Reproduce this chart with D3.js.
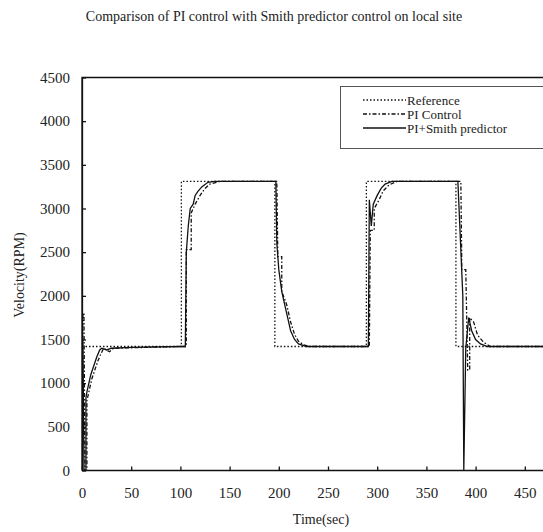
<!DOCTYPE html>
<html lang="en">
<head>
    <meta charset="UTF-8">
    <title>PI vs Smith predictor</title>
    <script src="https://d3js.org/d3.v7.min.js"></script>
    <style>
        body { margin: 0; padding: 0; background: #fff; }
        svg { display: block; font-family: "Liberation Serif", "DejaVu Serif", serif; }
        .axis path, .axis line { stroke: #111; stroke-width: 1.3px; }
        .axis text { font-size: 15px; fill: #222; }
        .series { fill: none; stroke: #111; stroke-width: 1.3px; }
        .legend text { font-size: 13px; fill: #222; }
    </style>
</head>
<body>
<div id="chart"></div>
<script>
    // series: [time (sec), velocity (RPM)]
    const reference = [[0,1420],[101,1420],[101,3310],[196,3310],[196,1420],[289,1420],[289,3310],
        [380,3310],[380,1420],[500,1420]];

    const piControl = [[0,1420],[1,1800],[2,1800],[3,0],[5,0],[5,800],[8,950],[10,1050],[13,1150],
        [16,1250],[19,1330],[22,1400],[28,1360],[32,1400],[101,1420],[106,1420],[106,2530],[111,2530],
        [111,2950],[115,3050],[120,3150],[125,3230],[130,3280],[140,3310],[198,3310],[199,2450],
        [203,2450],[203,2050],[208,1900],[212,1700],[216,1560],[220,1480],[225,1440],[232,1420],
        [292,1420],[293,2750],[297,2750],[297,3000],[302,3100],[306,3200],[312,3270],[320,3310],
        [385,3310],[386,2300],[390,2300],[392,1150],[394,1150],[394,1750],[398,1700],[402,1550],
        [408,1470],[415,1420],[500,1420]];

    const smith = [[0,1800],[1,1420],[2,0],[4,0],[4,830],[5,900],[7,1000],[9,1100],[12,1200],
        [15,1300],[18,1380],[20,1400],[25,1380],[30,1400],[50,1410],[101,1420],[105,1420],[106,2500],
        [108,2800],[110,3000],[113,3050],[115,3150],[118,3200],[122,3250],[128,3300],[135,3310],
        [197,3310],[198,2600],[200,2300],[203,2050],[206,1900],[209,1750],[212,1600],[216,1500],
        [220,1450],[228,1420],[291,1420],[292,3100],[294,2800],[296,3050],[300,3150],[304,3230],
        [308,3280],[315,3310],[382,3310],[387,2000],[388,0],[390,1400],[393,1750],[396,1600],
        [400,1500],[405,1450],[412,1420],[500,1420]];

    const xTicks = [0, 50, 100, 150, 200, 250, 300, 350, 400, 450];
    const yTicks = [0, 500, 1000, 1500, 2000, 2500, 3000, 3500, 4000, 4500];

    const legendItems = [
        { label: "Reference", data: reference, dash: "1.5,2" },
        { label: "PI Control", data: piControl, dash: "4,2,1.5,2" },
        { label: "PI+Smith predictor", data: smith, dash: null }
    ];

    const serif = "'Liberation Serif', 'DejaVu Serif', serif";
    const width = 543, height = 532;
    const margin = { left: 82, top: 77.5, bottom: 470.5 };

    const svg = d3.select("#chart").append("svg")
        .attr("width", width)
        .attr("height", height);

    svg.append("rect").attr("width", width).attr("height", height).attr("fill", "#fff");

    const x = d3.scaleLinear().domain([0, 500]).range([margin.left, margin.left + 492]);
    const y = d3.scaleLinear().domain([0, 4500]).range([margin.bottom, margin.top]);

    // clip to plot area
    svg.append("defs").append("clipPath").attr("id", "plot")
        .append("rect")
        .attr("x", x(0)).attr("y", y(4500))
        .attr("width", x(500) - x(0)).attr("height", y(0) - y(4500));

    // frame
    svg.append("path")
        .attr("d", `M${x(0)},${y(0)} V${y(4500)} H${x(500)} V${y(0)}`)
        .attr("fill", "none")
        .attr("stroke", "#111")
        .attr("stroke-width", 1.3);

    // axes with inward ticks
    svg.append("g")
        .attr("class", "axis")
        .attr("transform", `translate(0,${y(0)})`)
        .call(d3.axisBottom(x).tickValues(xTicks).tickFormat(d3.format("d"))
            .tickSize(-4).tickPadding(17).tickSizeOuter(0))
        .attr("font-family", serif)
        .call(g => g.select(".domain").attr("d", `M${x(0)},0H${x(500)}`));

    svg.append("g")
        .attr("class", "axis")
        .attr("transform", `translate(${x(0)},0)`)
        .call(d3.axisLeft(y).tickValues(yTicks).tickFormat(d3.format("d"))
            .tickSize(-4).tickPadding(12).tickSizeOuter(0))
        .attr("font-family", serif);

    const line = d3.line().x(d => x(d[0])).y(d => y(d[1]));

    const plot = svg.append("g").attr("clip-path", "url(#plot)");
    legendItems.forEach(item => {
        plot.append("path")
            .datum(item.data)
            .attr("class", "series")
            .attr("d", line)
            .attr("stroke-dasharray", item.dash);
    });

    // legend
    const legend = svg.append("g").attr("class", "legend");
    legend.append("rect")
        .attr("x", 340.5).attr("y", 86.5)
        .attr("width", 203).attr("height", 62)
        .attr("fill", "#fff")
        .attr("stroke", "#555")
        .attr("stroke-width", 1);

    legendItems.forEach((item, i) => {
        const ly = 100 + i * 14;
        legend.append("line")
            .attr("x1", 363).attr("x2", 406)
            .attr("y1", ly).attr("y2", ly)
            .attr("stroke", "#111")
            .attr("stroke-width", 1.3)
            .attr("stroke-dasharray", item.dash);
        legend.append("text")
            .attr("x", 407).attr("y", ly)
            .attr("dy", "0.35em")
            .text(item.label);
    });

    // titles
    svg.append("text")
        .attr("x", 274).attr("y", 21)
        .attr("text-anchor", "middle")
        .attr("font-size", 14)
        .attr("fill", "#222")
        .text("Comparison of PI control with Smith predictor control on local site");

    svg.append("text")
        .attr("x", 321).attr("y", 524)
        .attr("text-anchor", "middle")
        .attr("font-size", 14)
        .attr("fill", "#222")
        .text("Time(sec)");

    svg.append("text")
        .attr("transform", "translate(24,275) rotate(-90)")
        .attr("text-anchor", "middle")
        .attr("font-size", 14)
        .attr("fill", "#222")
        .text("Velocity(RPM)");
</script>
</body>
</html>
